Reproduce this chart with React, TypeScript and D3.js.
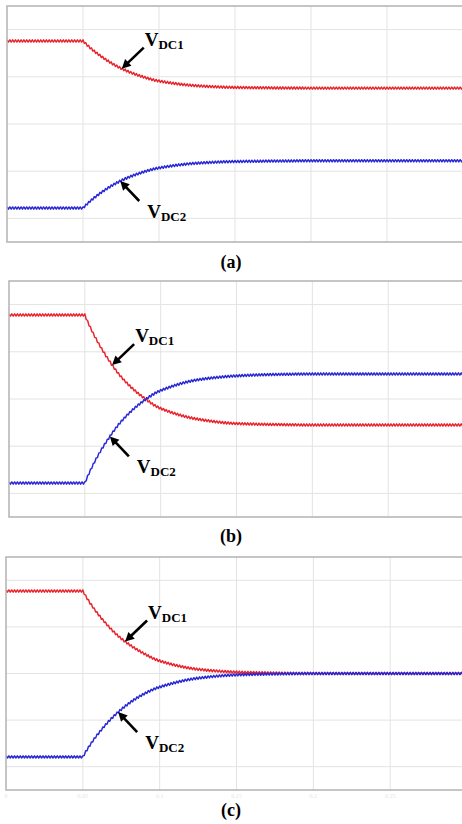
import React from 'react';
import * as d3 from 'd3';

// Time axis in grid divisions (the step change happens at division 1).
const TIME_DIV = [0, 1, 1.25, 1.5, 1.75, 2, 2.5, 3, 3.5, 4, 5, 6];

// DC-link capacitor voltages, in vertical grid divisions from the frame bottom.
const A_VDC1 = [4.26, 4.26, 3.92, 3.68, 3.52, 3.41, 3.31, 3.275, 3.265, 3.26, 3.26, 3.26];
const A_VDC2 = [0.72, 0.72, 1.06, 1.3, 1.46, 1.57, 1.67, 1.705, 1.715, 1.72, 1.72, 1.72];
const B_VDC1 = [4.28, 4.28, 3.49, 2.93, 2.56, 2.3, 2.07, 1.98, 1.96, 1.95, 1.95, 1.95];
const B_VDC2 = [0.72, 0.72, 1.51, 2.06, 2.43, 2.68, 2.91, 2.99, 3.02, 3.03, 3.03, 3.03];
const C_VDC1 = [4.27, 4.27, 3.67, 3.25, 2.97, 2.77, 2.59, 2.53, 2.51, 2.5, 2.5, 2.5];
const C_VDC2 = [0.71, 0.71, 1.31, 1.73, 2.02, 2.21, 2.4, 2.47, 2.49, 2.5, 2.5, 2.5];

const CAPTIONS = ['(a)', '(b)', '(c)'];
const SERIES_LABELS = ['DC1', 'DC2'];
const TIME_TICK_LABELS = ['0', '0.05', '0.1', '0.15', '0.2', '0.25'];

// Where the annotation arrows touch each trace (time, in divisions).
const ARROW_T = [
  [1.51, 1.49],
  [1.36, 1.33],
  [1.55, 1.46],
];

const PANEL_DATA = [
  [A_VDC1, A_VDC2],
  [B_VDC1, B_VDC2],
  [C_VDC1, C_VDC2],
];

// Layout of the three oscilloscope frames
const LAYOUT = [
  { left: 7, top: 6, width: 456, height: 236, captionY: 268, ticks: false },
  { left: 9, top: 281, width: 455, height: 236, captionY: 542, ticks: false },
  { left: 6, top: 557, width: 461, height: 233, captionY: 816, ticks: true },
];

const RED = '#e8232b';
const BLUE = '#2727d6';
const COLORS = [RED, BLUE];
const RIPPLE_PER_DIV = 27; // switching ripple cycles per time division
const RIPPLE_PX = 1.1;
const SERIF = 'Liberation Serif, Times New Roman, Times, serif';

// Piecewise cubic Hermite through the sampled envelope. Each knot carries a
// left and a right slope so the step onset stays a sharp corner.
function stepEnvelope(xs: number[], ys: number[]) {
  const n = xs.length;
  const d: number[] = [];
  for (let i = 0; i < n - 1; i++) d.push((ys[i + 1] - ys[i]) / (xs[i + 1] - xs[i]));
  const mL: number[] = new Array(n).fill(0);
  const mR: number[] = new Array(n).fill(0);
  mR[0] = d[0];
  mL[n - 1] = d[n - 2];
  for (let i = 1; i < n - 1; i++) {
    if (d[i - 1] === 0 && d[i] !== 0) {
      mL[i] = 0;
      mR[i] = d[i] * 1.25;
    } else if (d[i - 1] * d[i] <= 0) {
      mL[i] = mR[i] = 0;
    } else {
      mL[i] = mR[i] = (2 * d[i - 1] * d[i]) / (d[i - 1] + d[i]);
    }
  }
  return (t: number) => {
    let i = 0;
    while (i < n - 2 && t > xs[i + 1]) i++;
    const h = xs[i + 1] - xs[i];
    const s = (t - xs[i]) / h;
    const s2 = s * s;
    const s3 = s2 * s;
    return (
      (2 * s3 - 3 * s2 + 1) * ys[i] +
      (s3 - 2 * s2 + s) * h * mR[i] +
      (-2 * s3 + 3 * s2) * ys[i + 1] +
      (s3 - s2) * h * mL[i + 1]
    );
  };
}

function Arrow({ tip, tail }: { tip: [number, number]; tail: [number, number] }) {
  const dx = tip[0] - tail[0];
  const dy = tip[1] - tail[1];
  const len = Math.hypot(dx, dy);
  const ux = dx / len;
  const uy = dy / len;
  const headLen = 9;
  const headHalf = 4.6;
  const bx = tip[0] - ux * headLen;
  const by = tip[1] - uy * headLen;
  const head = [
    [tip[0], tip[1]],
    [bx - uy * headHalf, by + ux * headHalf],
    [bx + uy * headHalf, by - ux * headHalf],
  ];
  return (
    <g>
      <line x1={tail[0]} y1={tail[1]} x2={bx + ux} y2={by + uy} stroke="#000" strokeWidth={2.6} />
      <polygon points={head.map((p) => p.join(',')).join(' ')} fill="#000" />
    </g>
  );
}

function Panel({ index }: { index: number }) {
  const p = LAYOUT[index];
  const x = d3.scaleLinear().domain([0, 6]).range([p.left, p.left + p.width]);
  const y = d3.scaleLinear().domain([0, 5]).range([p.top + p.height, p.top]);
  const clipId = `frame-${index}`;
  const line = d3.line<[number, number]>();

  const traces = PANEL_DATA[index].map((values) => {
    const env = stepEnvelope(TIME_DIV, values);
    const steps = 6 * RIPPLE_PER_DIV * 2;
    const pts: [number, number][] = d3.range(steps + 1).map((i) => {
      const t = (i * 6) / steps;
      return [x(t), y(env(t)) + (i % 2 ? RIPPLE_PX : -RIPPLE_PX)];
    });
    return { env, path: line(pts) || '' };
  });

  const arrows = traces.map((tr, k) => {
    const t = ARROW_T[index][k];
    const tip: [number, number] = [x(t), y(tr.env(t))];
    const tail: [number, number] = k === 0 ? [tip[0] + 22, tip[1] - 21] : [tip[0] + 19, tip[1] + 20];
    const labelPos = k === 0 ? [tail[0] + 1, tail[1] - 2] : [tail[0] + 8, tail[1] + 17];
    return { tip, tail, labelPos };
  });

  return (
    <g>
      <clipPath id={clipId}>
        <rect x={p.left} y={p.top} width={p.width} height={p.height} />
      </clipPath>
      <rect x={p.left} y={p.top} width={p.width} height={p.height} fill="#fff" />
      {d3.range(1, 6).map((v) => (
        <line key={`vx${v}`} x1={x(v)} x2={x(v)} y1={p.top} y2={p.top + p.height} stroke="#e3e3e3" strokeWidth={1} />
      ))}
      {d3.range(0.5, 5, 1).map((v) => (
        <line key={`hy${v}`} x1={p.left} x2={p.left + p.width} y1={y(v)} y2={y(v)} stroke="#e3e3e3" strokeWidth={1} />
      ))}
      <g clipPath={`url(#${clipId})`}>
        {traces.map((tr, k) => (
          <path key={k} d={tr.path} fill="none" stroke={COLORS[k]} strokeWidth={1.45} strokeLinejoin="round" />
        ))}
      </g>
      <rect x={p.left} y={p.top} width={p.width} height={p.height} fill="none" stroke="#b2b2b2" strokeWidth={1.5} />
      {p.ticks &&
        TIME_TICK_LABELS.map((lab, i) => (
          <text key={lab} x={x(i)} y={p.top + p.height + 8} fontSize={6} fill="#e6e6e6" textAnchor="middle" fontFamily={SERIF}>
            {lab}
          </text>
        ))}
      {arrows.map((a, k) => (
        <g key={k}>
          <Arrow tip={a.tip} tail={a.tail} />
          <text x={a.labelPos[0]} y={a.labelPos[1]} fontFamily={SERIF} fontWeight="bold" fontSize={19} fill="#000">
            V
            <tspan fontSize={13} dy={3}>
              {SERIES_LABELS[k]}
            </tspan>
          </text>
        </g>
      ))}
      <text x={231} y={p.captionY} fontFamily={SERIF} fontWeight="bold" fontSize={18} textAnchor="middle" fill="#000">
        {CAPTIONS[index]}
      </text>
    </g>
  );
}

export default function App() {
  return (
    <svg
      width={462}
      height={824}
      viewBox="0 0 462 824"
      style={{ position: 'absolute', left: 0, top: 0, background: '#fff' }}
    >
      <rect width={462} height={824} fill="#fff" />
      {LAYOUT.map((_, i) => (
        <Panel key={i} index={i} />
      ))}
    </svg>
  );
}
